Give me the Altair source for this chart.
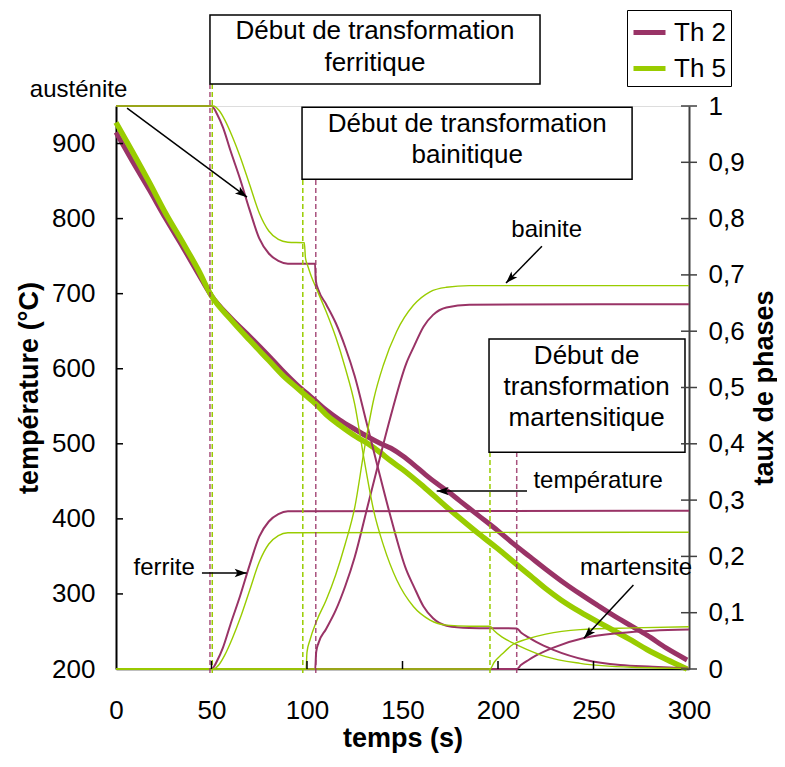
import math
import altair as alt
import pandas as pd

W, H = 573, 563
MAROON = "#993366"
GREEN = "#99CC00"
FONT = "Liberation Sans"

series_names = ["Th 2", "Th 5"]
x_ticks = [0, 50, 100, 150, 200, 250, 300]
temp_ticks = [200, 300, 400, 500, 600, 700, 800, 900]
phase_ticks = [0, 0.1, 0.2, 0.3, 0.4, 0.5, 0.6, 0.7, 0.8, 0.9, 1]

# ---------------- temperature (°C) ----------------
temp_t_th2 = [0, 8, 17.5, 26, 35, 43, 50, 60, 70, 80, 87, 95, 100, 105, 110, 117, 126, 132, 138, 144,
              150, 156, 162, 168, 173, 180, 190, 200, 208, 217, 225, 235, 243, 252, 260, 270, 278, 288, 299]
temp_v_th2 = [915, 879, 838, 800, 762, 727, 697, 668, 643, 617, 598, 578, 567, 556, 545, 532, 518, 509, 501, 494,
              484, 472, 459, 447, 438, 424, 404, 384, 367, 349, 333, 314, 300, 285, 272, 257, 245, 228, 212]
temp_t_th5 = [0, 8, 17.5, 26, 35, 43, 50, 60, 70, 80, 87, 95, 100, 105, 110, 117, 126, 132, 138, 144,
              150, 161, 173, 180, 190, 200, 208, 217, 225, 233, 243, 252, 260, 270, 278, 288, 299]
temp_v_th5 = [928, 892, 848, 807, 768, 732, 697, 666, 638, 611, 592, 574, 563, 552, 539, 525, 509, 500, 489, 477,
              466, 443, 416, 401, 380, 360, 343, 324, 307, 292, 276, 263, 252, 238, 226, 213, 200]

# ---------------- phase fractions ----------------
aus_t_th2 = [0, 50, 53, 56, 60, 65, 70, 75, 80, 85, 90, 104.2, 104.6, 106, 110, 115, 120, 125, 131, 136.5,
             143.5, 152, 156, 161, 166, 173, 185, 209.8, 212, 216, 220, 229, 246, 264, 281, 300]
aus_f_th2 = [1, 1, 0.985, 0.962, 0.92, 0.87, 0.815, 0.765, 0.738, 0.725, 0.72, 0.72, 0.69, 0.673, 0.648, 0.615,
             0.572, 0.52, 0.44, 0.366, 0.274, 0.176, 0.146, 0.111, 0.09, 0.077, 0.073, 0.072, 0.065, 0.056,
             0.048, 0.034, 0.016, 0.007, 0.004, 0.001]
fer_t_th2 = [0, 50, 53, 56, 60, 65, 70, 75, 80, 85, 90, 300]
fer_f_th2 = [0, 0, 0.015, 0.038, 0.08, 0.13, 0.185, 0.235, 0.262, 0.275, 0.28, 0.281]
bai_t_th2 = [0, 104.3, 104.8, 106, 110, 115, 120, 125, 131, 136.5, 143.5, 152, 156, 161, 166, 173, 185, 300]
bai_f_th2 = [0, 0, 0.03, 0.046, 0.071, 0.104, 0.147, 0.199, 0.279, 0.353, 0.445, 0.543, 0.573, 0.608, 0.629,
             0.642, 0.647, 0.648]
mar_t_th2 = [0, 209.8, 212, 216, 220, 229, 246, 264, 281, 300]
mar_f_th2 = [0, 0, 0.007, 0.016, 0.024, 0.038, 0.056, 0.064, 0.068, 0.070]

aus_t_th5 = [0, 51, 54, 57, 61, 65, 70, 75, 80, 85, 90, 98.6, 99.2, 100.5, 102, 105, 110, 115, 120, 125, 130,
             135, 140, 147, 155.7, 164.4, 173, 185, 195.8, 198, 202, 208, 215, 225, 243, 270, 300]
aus_f_th5 = [1, 1, 0.992, 0.975, 0.945, 0.91, 0.86, 0.81, 0.778, 0.763, 0.758, 0.757, 0.73, 0.715, 0.70, 0.675,
             0.635, 0.59, 0.535, 0.47, 0.37, 0.28, 0.22, 0.158, 0.111, 0.087, 0.078, 0.076, 0.076, 0.068,
             0.057, 0.046, 0.035, 0.022, 0.01, 0.003, 0.001]
fer_t_th5 = [0, 51, 54, 57, 61, 65, 70, 75, 80, 85, 90, 300]
fer_f_th5 = [0, 0, 0.008, 0.025, 0.055, 0.09, 0.14, 0.19, 0.222, 0.237, 0.242, 0.243]
bai_t_th5 = [0, 99.5, 100, 101.6, 105, 110, 115, 120, 125, 130, 135, 140, 147, 155.7, 164.4, 173, 185, 300]
bai_f_th5 = [0, 0, 0.03, 0.052, 0.085, 0.122, 0.167, 0.222, 0.287, 0.39, 0.48, 0.54, 0.6, 0.646, 0.67, 0.678,
             0.681, 0.681]
mar_t_th5 = [0, 195.8, 198, 202, 208, 215, 225, 243, 270, 300]
mar_f_th5 = [0, 0, 0.012, 0.026, 0.044, 0.053, 0.062, 0.07, 0.073, 0.075]

# transformation start times (dashed lines) and the bottom of the boxes they reach
start_t_th2 = [49.2, 104.6, 209.8]
start_t_th5 = [50.4, 97.8, 195.8]
start_top = [1.039, 0.870, 0.385]
start_bottom = -0.007

# annotation boxes: (t_left, t_right, f_bottom, f_top)
box_t1 = [49.2, 97.4, 195.3]
box_t2 = [222.0, 270.2, 297.9]
box_f1 = [1.039, 0.870, 0.385]
box_f2 = [1.1616, 0.998, 0.586]
box_lines = ["Début de transformation", "ferritique",
             "Début de transformation", "bainitique",
             "Début de", "transformation", "martensitique"]
box_line_t = [135.6, 135.6, 183.9, 183.9, 246.4, 246.4, 246.4]
box_line_f = [1.1185, 1.0627, 0.9533, 0.8982, 0.5417, 0.4867, 0.4316]

# labels and arrows
label_text = ["austénite", "bainite", "température", "ferrite", "martensite"]
label_t = [-19.6, 225.5, 252.4, 25.2, 272.3]
label_f = [1.0165, 0.767, 0.321, 0.167, 0.167]
arrow_t1 = [5.8, 223.0, 215.2, 45.0, 270.9]
arrow_f1 = [0.9964, 0.751, 0.316, 0.1705, 0.149]
arrow_t2 = [68.6, 204.2, 167.9, 68.4, 245.0]
arrow_f2 = [0.838, 0.6856, 0.316, 0.1705, 0.0545]

# ---------------- data frames ----------------
def frame(ts, vs, col):
    return pd.DataFrame({"t": ts, col: vs})

temp2 = frame(temp_t_th2, temp_v_th2, "T").assign(series="Th 2")
temp5 = frame(temp_t_th5, temp_v_th5, "T").assign(series="Th 5")

phase2 = pd.concat([
    frame(aus_t_th2, aus_f_th2, "f").assign(phase="austenite"),
    frame(fer_t_th2, fer_f_th2, "f").assign(phase="ferrite"),
    frame(bai_t_th2, bai_f_th2, "f").assign(phase="bainite"),
    frame(mar_t_th2, mar_f_th2, "f").assign(phase="martensite"),
])
phase5 = pd.concat([
    frame(aus_t_th5, aus_f_th5, "f").assign(phase="austenite"),
    frame(fer_t_th5, fer_f_th5, "f").assign(phase="ferrite"),
    frame(bai_t_th5, bai_f_th5, "f").assign(phase="bainite"),
    frame(mar_t_th5, mar_f_th5, "f").assign(phase="martensite"),
])

dash2 = pd.DataFrame({"t": start_t_th2, "f": [start_bottom] * 3, "f2": start_top})
dash5 = pd.DataFrame({"t": start_t_th5, "f": [start_bottom] * 3, "f2": start_top})
boxes = pd.DataFrame({"t": box_t1, "t2": box_t2, "f": box_f1, "f2": box_f2})
box_text = pd.DataFrame({"text": box_lines, "t": box_line_t, "f": box_line_f})
labels = pd.DataFrame({"text": label_text, "t": label_t, "f": label_f})
arrows = pd.DataFrame({"t": arrow_t1, "f": arrow_f1, "t2": arrow_t2, "f2": arrow_f2})
angles = [math.degrees(math.atan2((b - a) * W / 300.0, (d - c) * H)) % 360
          for a, b, c, d in zip(arrow_t1, arrow_t2, arrow_f1, arrow_f2)]
heads = pd.DataFrame({"t": arrow_t2, "f": arrow_f2, "angle": angles})

xt = pd.DataFrame({"t": x_ticks[1:-1]})
tt = pd.DataFrame({"T": temp_ticks[1:]})
ft = pd.DataFrame({"f": phase_ticks})

# ---------------- encodings ----------------
X = alt.X("t:Q", scale=alt.Scale(domain=[0, 300], nice=False, zero=False),
          axis=alt.Axis(values=x_ticks, ticks=False, tickSize=0, grid=False, labelFlush=False,
                        labelOverlap=False, labelFontSize=26, labelFont=FONT, labelColor="black",
                        labelPadding=28, domainColor="black", domainWidth=1.5,
                        title="temps (s)", titleFont=FONT, titleFontSize=27, titleFontWeight="bold",
                        titleColor="black", titlePadding=2))
YT = alt.Y("T:Q", scale=alt.Scale(domain=[200, 950], nice=False, zero=False),
           axis=alt.Axis(orient="left", values=temp_ticks, ticks=False, tickSize=0, grid=False,
                         labelFontSize=26, labelFont=FONT, labelColor="black", labelPadding=21,
                         domainColor="black", domainWidth=2,
                         title="température (°C)", titleFont=FONT, titleFontSize=27,
                         titleFontWeight="bold", titleColor="black", titlePadding=8))
YF = alt.Y("f:Q", scale=alt.Scale(domain=[0, 1], nice=False, zero=False),
           axis=alt.Axis(orient="right", values=phase_ticks, ticks=False, tickSize=0, grid=False,
                         labelExpr="replace(format(datum.value, '.1~f'), '.', ',')",
                         labelFontSize=26, labelFont=FONT, labelColor="black", labelPadding=19,
                         domainColor="#404040", domainWidth=2,
                         title="taux de phases", titleFont=FONT, titleFontSize=27,
                         titleFontWeight="bold", titleColor="black", titleAngle=270,
                         titleX=75, titleY=H / 2, titleAlign="center", titleBaseline="middle"))
COLOR = alt.Color("series:N", scale=alt.Scale(domain=series_names, range=[MAROON, GREEN]),
                  legend=alt.Legend(title=None, orient="none", legendX=511, legendY=-96,
                                    symbolType="stroke", symbolSize=1024, symbolStrokeWidth=5,
                                    labelFontSize=26, labelFont=FONT, labelColor="black",
                                    labelOffset=6, padding=4, rowPadding=4,
                                    strokeColor="black", fillColor="white"))

# ---------------- temperature group ----------------
t_line2 = alt.Chart(temp2).mark_line(strokeWidth=5, interpolate="monotone").encode(x=X, y=YT, color=COLOR)
t_line5 = alt.Chart(temp5).mark_line(strokeWidth=5.5, interpolate="monotone").encode(x=X, y=YT, color=COLOR)
left_ticks = alt.Chart(tt).mark_rule(color="black", strokeWidth=1.5).encode(
    y=YT, x=alt.value(0), x2=alt.value(7))
temp_group = alt.layer(t_line2, t_line5, left_ticks)

# ---------------- phase group ----------------
p_line2 = alt.Chart(phase2).mark_line(strokeWidth=2, color=MAROON, interpolate="monotone").encode(
    x=X, y=YF, detail="phase:N")
p_line5 = alt.Chart(phase5).mark_line(strokeWidth=1.4, color=GREEN, interpolate="monotone").encode(
    x=X, y=YF, detail="phase:N")
d_line2 = alt.Chart(dash2).mark_rule(strokeWidth=1.5, color=MAROON, strokeDash=[5, 3], opacity=0.85).encode(
    x=X, y=YF, y2="f2:Q")
d_line5 = alt.Chart(dash5).mark_rule(strokeWidth=1.5, color=GREEN, strokeDash=[5, 3]).encode(
    x=X, y=YF, y2="f2:Q")
box_rect = alt.Chart(boxes).mark_rect(fill="white", stroke="black", strokeWidth=1.5).encode(
    x=X, x2="t2:Q", y=YF, y2="f2:Q")
box_txt = alt.Chart(box_text).mark_text(font=FONT, fontSize=26, color="black", align="center",
                                        baseline="alphabetic").encode(x=X, y=YF, text="text:N")
lbl_txt = alt.Chart(labels).mark_text(font=FONT, fontSize=24, color="black", align="center",
                                      baseline="alphabetic").encode(x=X, y=YF, text="text:N")
arr_lines = alt.Chart(arrows).mark_rule(color="black", strokeWidth=1.5).encode(
    x=X, x2="t2:Q", y=YF, y2="f2:Q")
arr_heads = alt.Chart(heads).mark_point(shape="M0,0L0.45,1.3L0,1.0L-0.45,1.3Z", filled=True,
                                        color="black", opacity=1, size=340, strokeWidth=0).encode(
    x=X, y=YF, angle=alt.Angle("angle:Q", scale=None))
right_ticks = alt.Chart(ft).mark_rule(color="#404040", strokeWidth=1.5).encode(
    y=YF, x=alt.value(W - 8), x2=alt.value(W + 8))
bottom_ticks = alt.Chart(xt).mark_rule(color="black", strokeWidth=1.5).encode(
    x=X, y=alt.value(H), y2=alt.value(H - 8))
phase_group = alt.layer(p_line2, p_line5, d_line2, d_line5, box_rect, box_txt, lbl_txt,
                        arr_lines, arr_heads, right_ticks, bottom_ticks)

chart = alt.layer(temp_group, phase_group).resolve_scale(y="independent").properties(
    width=W, height=H,
    autosize=alt.AutoSizeParams(type="none"),
    padding={"left": 108, "top": 98, "right": 88, "bottom": 86},
).configure_view(stroke="#808080", strokeWidth=2).configure(font=FONT)

chart.save("out.html", embed_options={"renderer": "svg", "actions": False})
